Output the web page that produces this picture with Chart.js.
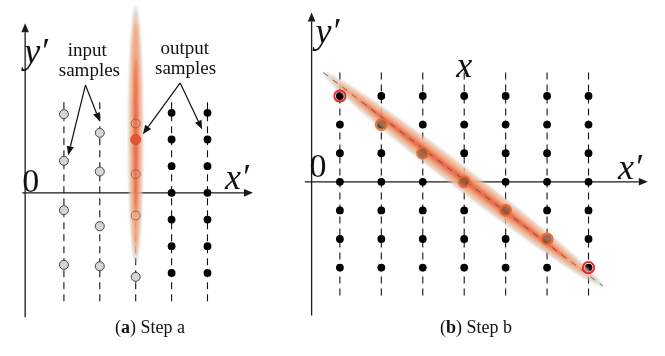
<!DOCTYPE html>
<html>
<head>
<meta charset="utf-8">
<script src="https://cdn.jsdelivr.net/npm/chart.js@4.4.0/dist/chart.umd.min.js"></script>
<style>
  html, body { margin: 0; padding: 0; background: #fff; }
  #wrap { position: relative; width: 665px; height: 356px; overflow: hidden; }
  canvas { position: absolute; top: 0; }
  .cap { position: absolute; top: 318px; font: 18px "Liberation Serif", serif; line-height: 18px;
         color: #111; white-space: nowrap; transform: translateX(-50%); }
</style>
</head>
<body>
<div id="wrap">
  <canvas id="chartA" width="280" height="326" style="left:0"></canvas>
  <canvas id="chartB" width="385" height="326" style="left:280px"></canvas>
  <div class="cap" style="left:150px">(<b>a</b>) Step a</div>
  <div class="cap" style="left:476px">(<b>b</b>) Step b</div>
</div>
<script>
// ---- panel (a) data (x' / y' units) ----
var colsA = [1, 2, 3, 4, 5];
var outColsA = [4, 5];
var rowsA = [3, 2, 1, 0, -1, -2, -3];
var inputCol1 = [2.95, 1.2, -0.65, -2.7];
var inputCol2 = [2.25, 0.8, -1.25, -2.75];
var shiftedCol3 = [2.6, 0.7, -0.85];
var leftoverCol3 = [-3.15];
var outputA = [2];
var dashSpanA = [3.4, -4.1];
var kernelA = [{x: 3, y: 7.0}, {x: 3, y: -2.65}];

// ---- panel (b) data ----
var colsB = [1, 2, 3, 4, 5, 6, 7];
var rowsB = [3, 2, 1, 0, -1, -2, -3];
var endCols = [1, 7];
var endRows = [3, -3];
var midCols = [2, 3, 4, 5, 6];
var midRows = [2, 1, 0, -1, -2];
var dashSpanB = [3.82, -3.98];
var kernelB = [{x: 0.6, y: 3.82}, {x: 7.34, y: -3.64}];

var serif = '"Liberation Serif", "Times New Roman", serif';

function pts(xs, ys) { return ys.map(function (y, i) { return {x: Array.isArray(xs) ? xs[i] : xs, y: y}; }); }

function dashSets(cols, span) {
  return cols.map(function (c) {
    return {
      data: [{x: c, y: span[0]}, {x: c, y: span[1]}],
      showLine: true, borderColor: '#111', borderWidth: 1.1, borderDash: [7, 5], pointRadius: 0
    };
  });
}

function arrow(ctx, x0, y0, x1, y1, head, hw) {
  var a = Math.atan2(y1 - y0, x1 - x0);
  var bx = x1 - head * Math.cos(a), by = y1 - head * Math.sin(a);
  ctx.beginPath(); ctx.moveTo(x0, y0); ctx.lineTo(bx, by); ctx.stroke();
  ctx.beginPath(); ctx.moveTo(x1, y1);
  ctx.lineTo(bx + hw * Math.sin(a), by - hw * Math.cos(a));
  ctx.lineTo(bx - hw * Math.sin(a), by + hw * Math.cos(a));
  ctx.closePath(); ctx.fill();
}

// soft kernel: stacked ellipses, gray halo -> peach -> orange -> red core
function kernel(ctx, p1, p2, halfW, core) {
  var cx = (p1.x + p2.x) / 2, cy = (p1.y + p2.y) / 2;
  var a = Math.hypot(p2.x - p1.x, p2.y - p1.y) / 2;
  var layers = [
    [1.0, 1.0, 'rgba(185,185,185,0.45)'],
    [0.95, 0.86, 'rgba(247,196,164,0.72)'],
    [0.88, 0.62, 'rgba(243,146,98,0.6)'],
    [core, 0.3, 'rgba(230,74,44,0.6)']
  ];
  ctx.save();
  ctx.translate(cx, cy);
  ctx.rotate(Math.atan2(p2.y - p1.y, p2.x - p1.x));
  ctx.filter = 'blur(1.3px)';
  layers.forEach(function (l) {
    ctx.beginPath();
    ctx.ellipse(0, 0, a * l[0], halfW * l[1], 0, 0, Math.PI * 2);
    ctx.fillStyle = l[2];
    ctx.fill();
  });
  ctx.restore();
}

// axes, kernel and labels drawn through the chart's own scales
var sketch = {
  id: 'sketch',
  beforeDatasetsDraw: function (chart, args, o) {
    var ctx = chart.ctx, sx = chart.scales.x, sy = chart.scales.y;
    var ax = sx.getPixelForValue(o.axisX), ay = sy.getPixelForValue(0);
    ctx.save();
    ctx.strokeStyle = '#1a1a1a'; ctx.fillStyle = '#1a1a1a'; ctx.lineWidth = 1.3;
    arrow(ctx, ax, sy.getPixelForValue(o.yFrom), ax, sy.getPixelForValue(o.yTo), 9, 3.8);
    arrow(ctx, sx.getPixelForValue(o.xFrom), ay, sx.getPixelForValue(o.xTo), ay, 9, 3.8);
    ctx.restore();
  },
  afterDatasetDraw: function (chart, args, o) {
    if (args.index !== o.kernelAfter) return;
    var sx = chart.scales.x, sy = chart.scales.y;
    var p = o.kernel.map(function (k) { return {x: sx.getPixelForValue(k.x), y: sy.getPixelForValue(k.y)}; });
    kernel(chart.ctx, p[0], p[1], o.kernelW, o.core);
  },
  afterDraw: function (chart, args, o) {
    var ctx = chart.ctx, sx = chart.scales.x, sy = chart.scales.y;
    var ax = sx.getPixelForValue(o.axisX), ay = sy.getPixelForValue(0);
    var ty = sy.getPixelForValue(o.yTo), tx = sx.getPixelForValue(o.xTo);
    ctx.save();
    ctx.fillStyle = '#111'; ctx.textBaseline = 'alphabetic';
    ctx.font = 'italic 36px ' + serif;
    ctx.textAlign = 'left';
    ctx.fillText('y\u2032', ax + o.yl[0], ty + o.yl[1]);
    ctx.textAlign = 'right';
    ctx.fillText('x\u2032', tx + o.xl[0], ay + o.xl[1]);
    ctx.font = '34px ' + serif; ctx.textAlign = 'left';
    ctx.fillText('0', ax + o.zl[0], ay + o.zl[1]);
    (o.texts || []).forEach(function (t) {
      ctx.font = t.font; ctx.textAlign = 'center';
      ctx.fillText(t.s, sx.getPixelForValue(t.x), sy.getPixelForValue(t.y));
    });
    ctx.strokeStyle = '#111'; ctx.fillStyle = '#111'; ctx.lineWidth = 1.2;
    (o.arrows || []).forEach(function (a) {
      arrow(ctx, sx.getPixelForValue(a[0]), sy.getPixelForValue(a[1]),
                 sx.getPixelForValue(a[2]), sy.getPixelForValue(a[3]), 9, 3.6);
    });
    ctx.restore();
  }
};

function baseOpts(xr, yr, sk) {
  return {
    responsive: false, animation: false, events: [],
    layout: { padding: 0 },
    scales: {
      x: { type: 'linear', min: xr[0], max: xr[1], display: false },
      y: { type: 'linear', min: yr[0], max: yr[1], display: false }
    },
    plugins: { legend: { display: false }, tooltip: { enabled: false }, sketch: sk }
  };
}

// ---- chart (a) ----
var blackA = [];
outColsA.forEach(function (c) { rowsA.forEach(function (r) { blackA.push({x: c, y: r}); }); });

new Chart(document.getElementById('chartA'), {
  type: 'scatter',
  plugins: [sketch],
  data: {
    datasets: [
      { data: pts(3, outputA), pointRadius: 5, pointBackgroundColor: 'rgba(228,78,46,0.85)',
        pointBorderColor: 'rgba(215,70,40,0.9)', pointBorderWidth: 1 },
      { data: pts(3, shiftedCol3), pointRadius: 4.5, pointBackgroundColor: 'rgba(0,0,0,0)',
        pointBorderColor: '#a5623e', pointBorderWidth: 1 },
      { data: pts(1, inputCol1).concat(pts(2, inputCol2), pts(3, leftoverCol3)), pointRadius: 4.5,
        pointBackgroundColor: '#d5d5d5', pointBorderColor: '#444', pointBorderWidth: 1 },
      { data: blackA, pointRadius: 3.9, pointBackgroundColor: '#000', pointBorderColor: '#000', pointBorderWidth: 0 }
    ].concat(dashSets(colsA, dashSpanA))
  },
  options: baseOpts([-0.6133, 6.853], [-4.7653, 7.0036], {
    axisX: -0.08, yFrom: -4.66, yTo: 6.354, xFrom: -0.16, xTo: 6.267,
    yl: [-1, 40], xl: [-4, -4], zl: [-3, -1],
    kernel: kernelA, kernelW: 7.5, kernelAfter: 2, core: 0.6,
    texts: [
      { s: 'input', x: 1.65, y: 5.13, font: '19px ' + serif },
      { s: 'samples', x: 1.71, y: 4.37, font: '19px ' + serif },
      { s: 'output', x: 4.37, y: 5.2, font: '19px ' + serif },
      { s: 'samples', x: 4.39, y: 4.44, font: '19px ' + serif }
    ],
    arrows: [
      [1.6, 4.04, 1.12, 1.41], [1.6, 4.04, 2.0, 2.67],
      [4.24, 4.12, 3.2, 2.2], [4.24, 4.12, 4.85, 2.38]
    ]
  })
});

// ---- chart (b) ----
var gridB = [];
colsB.forEach(function (c) { rowsB.forEach(function (r) { gridB.push({x: c, y: r}); }); });

new Chart(document.getElementById('chartB'), {
  type: 'scatter',
  plugins: [sketch],
  data: {
    datasets: [
      { data: pts(endCols, endRows), pointRadius: 5.6, pointBackgroundColor: 'rgba(0,0,0,0)',
        pointBorderColor: 'rgba(232,32,40,0.95)', pointBorderWidth: 2 },
      { data: pts(midCols, midRows), pointRadius: 5.6, pointBackgroundColor: 'rgba(110,70,50,0.55)',
        pointBorderColor: 'rgba(242,108,48,0.9)', pointBorderWidth: 2 },
      { data: kernelB, showLine: true, borderColor: 'rgba(60,60,60,0.7)', borderWidth: 1,
        borderDash: [6, 6], pointRadius: 0 },
      { data: gridB, pointRadius: 3.9, pointBackgroundColor: '#000', pointBorderColor: '#000', pointBorderWidth: 0 }
    ].concat(dashSets(colsB, dashSpanB))
  },
  options: baseOpts([-0.2619, 8.6625], [-4.7767, 6.09], {
    axisX: 0.3176, yFrom: -4.677, yTo: 5.923, xFrom: 0.155, xTo: 8.431,
    yl: [4, 31], xl: [-6, -3], zl: [-2, -5],
    kernel: kernelB, kernelW: 11, kernelAfter: 3, core: 0.75,
    texts: [ { s: 'x', x: 4, y: 3.65, font: 'italic 36px ' + serif } ]
  })
});
</script>
</body>
</html>
